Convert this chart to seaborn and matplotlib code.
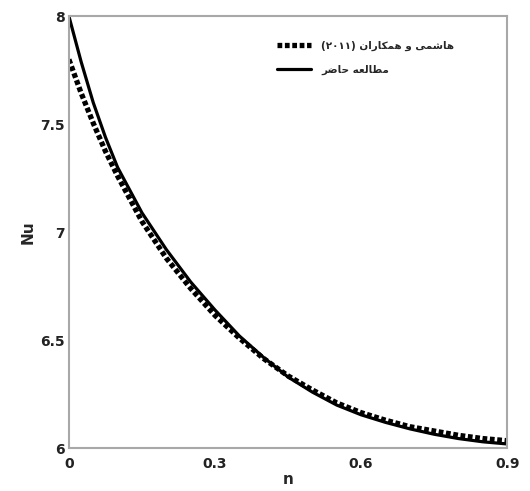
import matplotlib
matplotlib.use("Agg")
import matplotlib.pyplot as plt
import seaborn as sns
import pandas as pd

# values
n_vals = [0.0, 0.025, 0.05, 0.075, 0.1, 0.15, 0.2, 0.25, 0.3, 0.35, 0.4, 0.45,
          0.5, 0.55, 0.6, 0.65, 0.7, 0.75, 0.8, 0.85, 0.9]
nu_present = [8.00, 7.79, 7.60, 7.44, 7.30, 7.09, 6.92, 6.77, 6.64, 6.52, 6.42, 6.33,
              6.26, 6.20, 6.155, 6.12, 6.09, 6.065, 6.045, 6.03, 6.02]
nu_hashemi = [7.80, 7.645, 7.505, 7.375, 7.26, 7.05, 6.88, 6.74, 6.615, 6.51, 6.415, 6.335,
              6.27, 6.21, 6.165, 6.13, 6.10, 6.08, 6.06, 6.045, 6.035]

# Persian labels, written in visual order with presentation forms
# (matplotlib does no bidi / shaping)
label_hashemi = "(\u06f2\u06f0\u06f1\u06f1) \ufee5\ufe8d\ufead\ufe8e\ufb91\ufee4\ufeeb \ufeed \ufbfd\ufee4\ufeb7\ufe8e\ufeeb"
label_present = "\ufeae\ufebf\ufe8e\ufea3 \ufeea\ufecc\ufedf\ufe8e\ufec4\ufee3"

x_ticks = [0, 0.3, 0.6, 0.9]
x_tick_labels = ["0", "0.3", "0.6", "0.9"]
y_ticks = [6, 6.5, 7, 7.5, 8]
y_tick_labels = ["6", "6.5", "7", "7.5", "8"]

sns.set_style("white")
plt.rcParams["font.family"] = ["DejaVu Sans"]

df_h = pd.DataFrame({"n": n_vals, "Nu": nu_hashemi})
df_p = pd.DataFrame({"n": n_vals, "Nu": nu_present})

fig = plt.figure(figsize=(5.3, 4.91), dpi=100)
ax = fig.add_axes([0.130, 0.087, 0.827, 0.880])

sns.lineplot(data=df_h, x="n", y="Nu", ax=ax, color="black", linewidth=3.8,
             label=label_hashemi)
sns.lineplot(data=df_p, x="n", y="Nu", ax=ax, color="black", linewidth=2.3,
             label=label_present)
ax.lines[0].set_dashes([0.9, 0.5])
ax.lines[0].set_dash_capstyle("butt")

ax.set_xlim(0, 0.9)
ax.set_ylim(6, 8)
ax.set_xticks(x_ticks)
ax.set_xticklabels(x_tick_labels)
ax.set_yticks(y_ticks)
ax.set_yticklabels(y_tick_labels)
ax.tick_params(axis="both", direction="in", length=3, width=1, color="#999999",
               labelsize=10)
ax.tick_params(axis="x", pad=6)
ax.tick_params(axis="y", pad=3)
for lab in ax.get_xticklabels() + ax.get_yticklabels():
    lab.set_fontweight("bold")
    lab.set_color("#222222")

for sp in ax.spines.values():
    sp.set_color("#a8a8a8")
    sp.set_linewidth(1.5)

ax.set_xlabel("n", fontsize=11, fontweight="bold", labelpad=1)
ax.set_ylabel("Nu", fontsize=11, fontweight="bold", labelpad=3)

leg = ax.legend(loc="upper right", bbox_to_anchor=(0.9, 0.965), frameon=False,
                handlelength=3.2, handletextpad=1.0, fontsize=7.5, labelspacing=1.3)
for t in leg.get_texts():
    t.set_fontweight("bold")

fig.savefig("out.png", dpi=100)
